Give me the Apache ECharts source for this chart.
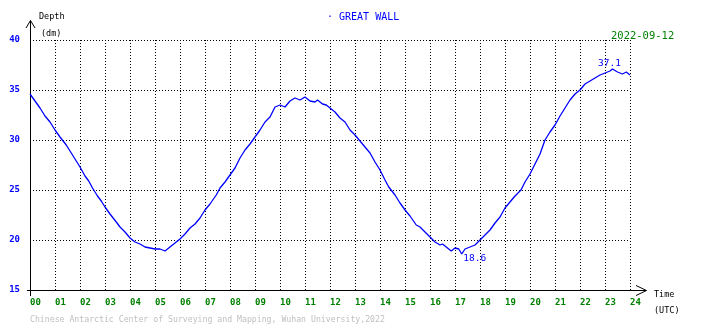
<!DOCTYPE html>
<html>
<head>
<meta charset="utf-8">
<script src="https://cdn.jsdelivr.net/npm/echarts@6/dist/echarts.min.js"></script>
<style>
html,body{margin:0;padding:0;background:#fff;}
#c{width:710px;height:328px;}
</style>
</head>
<body>
<div id="c"></div>
<script>
// ---- data (hour UTC, depth dm) ----
var hours = [0.0,0.2,0.4,0.6,0.8,1.0,1.2,1.45,1.6,1.8,2.0,2.2,2.35,2.5,2.7,2.85,3.0,3.2,3.45,3.6,3.8,4.0,4.2,4.4,4.6,4.8,5.0,5.2,5.4,5.6,5.8,6.0,6.2,6.4,6.6,6.8,7.0,7.2,7.45,7.6,7.8,8.0,8.2,8.4,8.6,8.8,9.0,9.2,9.4,9.6,9.8,10.0,10.2,10.4,10.6,10.8,11.0,11.2,11.4,11.5,11.7,11.85,12.0,12.2,12.4,12.6,12.8,13.0,13.2,13.4,13.6,13.8,14.0,14.2,14.35,14.6,14.8,15.0,15.2,15.45,15.6,15.8,16.0,16.2,16.4,16.5,16.7,16.85,17.0,17.15,17.27,17.4,17.6,17.8,18.0,18.2,18.4,18.6,18.8,19.0,19.2,19.4,19.64,19.8,20.0,20.2,20.4,20.6,20.8,21.0,21.2,21.4,21.6,21.8,22.0,22.2,22.4,22.6,22.8,23.0,23.2,23.3,23.5,23.7,23.85,24.0];
var depth = [34.6,33.9,33.2,32.4,31.8,31.0,30.3,29.5,28.9,28.1,27.3,26.4,25.9,25.2,24.4,23.9,23.3,22.6,21.8,21.3,20.8,20.2,19.8,19.6,19.3,19.2,19.1,19.1,18.9,19.3,19.7,20.1,20.6,21.2,21.6,22.2,23.0,23.6,24.5,25.2,25.8,26.5,27.2,28.2,29.0,29.6,30.3,31.0,31.8,32.3,33.3,33.5,33.3,33.9,34.2,34.0,34.3,33.9,33.8,34.0,33.6,33.5,33.2,32.8,32.2,31.8,31.0,30.5,29.9,29.3,28.7,27.8,27.0,26.0,25.3,24.5,23.7,23.0,22.4,21.5,21.3,20.8,20.3,19.8,19.5,19.6,19.2,18.9,19.2,19.1,18.6,19.1,19.3,19.5,20.0,20.5,21.0,21.7,22.3,23.2,23.8,24.4,25.0,25.8,26.6,27.6,28.6,30.0,30.8,31.5,32.4,33.2,34.0,34.6,35.0,35.6,35.9,36.2,36.5,36.7,36.9,37.1,36.8,36.6,36.8,36.5];
var yTicks = [15,20,25,30,35,40];
var xTicks = ['00','01','02','03','04','05','06','07','08','09','10','11','12','13','14','15','16','17','18','19','20','21','22','23','24'];
var stationName = '· GREAT WALL';
var dateText = '2022-09-12';
var footerText = 'Chinese Antarctic Center of Surveying and Mapping, Wuhan University,2022';

var series = hours.map(function(h,i){return [h, depth[i]];});
var mono = 'DejaVu Sans Mono';

function txt(t, left, top, color, size){
  return {text:t, left:left, top:top, padding:0, itemGap:0,
    textStyle:{color:color, fontFamily:mono, fontSize:size, fontWeight:'normal'}};
}

var chart = echarts.init(document.getElementById('c'), null, {renderer:'canvas'});
var dotted = {color:'#000', width:1, type:[1,2]};
chart.setOption({
  animation:false,
  backgroundColor:'#fff',
  grid:{left:30, top:40, width:600, height:250, containLabel:false},
  xAxis:{
    type:'value', min:0, max:24, interval:1,
    axisLine:{show:true, lineStyle:{color:'#000', width:1}},
    axisTick:{show:false},
    splitLine:{show:true, lineStyle:dotted},
    axisLabel:{color:'#008000', fontFamily:mono, fontSize:9, fontWeight:'bold', align:'left', margin:8,
      formatter:function(v){return xTicks[v];}}
  },
  yAxis:{
    type:'value', min:15, max:40, interval:5,
    axisLine:{show:true, onZero:false, lineStyle:{color:'#000', width:1}},
    axisTick:{show:false},
    splitLine:{show:true, lineStyle:dotted},
    axisLabel:{color:'#0000ff', fontFamily:mono, fontSize:9, fontWeight:'bold', margin:10,
      formatter:function(v){return yTicks.indexOf(v)>=0 ? String(v) : '';}}
  },
  title:[
    txt(stationName, 327, 12, '#0000ff', 10),
    txt(dateText, 611, 31, '#008000', 10.5),
    txt('Depth', 39, 12, '#000', 8.5),
    txt('(dm)', 41, 29, '#000', 8.5),
    txt('Time', 654, 290, '#000', 8.5),
    txt('(UTC)', 654, 306, '#000', 8.5),
    txt(footerText, 30, 316, '#c0c0c0', 8.2)
  ],
  graphic:[
    {type:'polyline', shape:{points:[[30.5,290],[30.5,20.5]]}, style:{stroke:'#000', lineWidth:1, fill:null}},
    {type:'polyline', shape:{points:[[30.5,290],[30.5,296]]}, style:{stroke:'#000', lineWidth:1, fill:null}},
    {type:'polyline', shape:{points:[[26,28],[30.5,20.5],[35,28]]}, style:{stroke:'#000', lineWidth:1, fill:null}},
    {type:'polyline', shape:{points:[[27,290.5],[646.5,290.5]]}, style:{stroke:'#000', lineWidth:1, fill:null}},
    {type:'polyline', shape:{points:[[636,285.5],[646.5,290.5],[636,295.5]]}, style:{stroke:'#000', lineWidth:1, fill:null}}
  ],
  series:[{
    type:'line', data:series, showSymbol:false, symbol:'none',
    lineStyle:{color:'#0000ff', width:1.3},
    markPoint:{
      symbol:'circle', symbolSize:0,
      data:[
        {type:'min', label:{show:true, position:'inside', offset:[13,5], color:'#0000ff', fontFamily:mono, fontSize:9.5, formatter:function(p){return p.value.toFixed(1);}}},
        {type:'max', label:{show:true, position:'inside', offset:[-3,-5], color:'#0000ff', fontFamily:mono, fontSize:9.5, formatter:function(p){return p.value.toFixed(1);}}}
      ]
    }
  }]
});
</script>
</body>
</html>
